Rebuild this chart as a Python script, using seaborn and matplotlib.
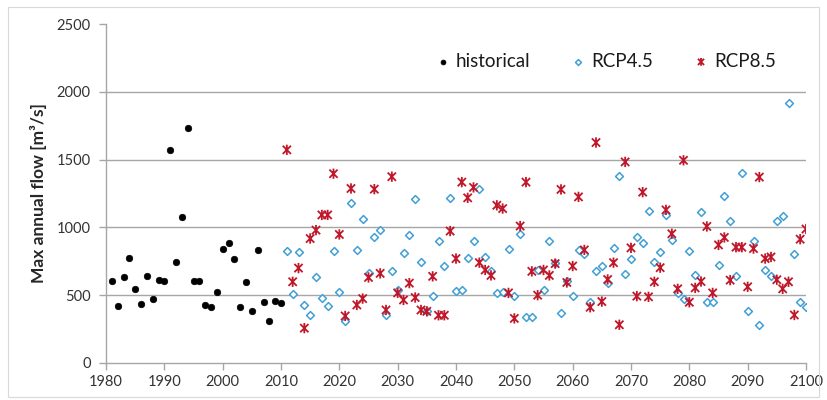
import numpy as np
import pandas as pd
import matplotlib
matplotlib.use("Agg")
import matplotlib.pyplot as plt
from matplotlib.path import Path
from matplotlib.patches import Rectangle
import seaborn as sns

# Observed annual maxima
hist_years = list(range(1981, 2011))
hist_flow = [605, 420, 636, 774, 543, 437, 644, 474, 612, 605,
             1573, 745, 1074, 1730, 605, 605, 428, 415, 522, 843,
             882, 767, 415, 597, 383, 835, 450, 307, 459, 445]

# Projected annual maxima under two emission scenarios
proj_years = list(range(2011, 2101))
rcp45_flow = [824, 507, 817, 431, 352, 631, 483, 421, 824, 522,
              307, 1178, 832, 1064, 661, 926, 980, 354, 676, 542,
              809, 941, 1210, 745, 385, 493, 901, 715, 1215, 530,
              535, 775, 901, 1280, 782, 676, 517, 525, 839, 493,
              955, 337, 342, 686, 535, 901, 735, 369, 605, 493,
              834, 805, 448, 676, 715, 592, 851, 1379, 653, 765,
              931, 884, 1119, 745, 817, 1094, 908, 517, 473, 824,
              646, 1111, 453, 453, 723, 1233, 1050, 641, 1403, 381,
              901, 282, 683, 639, 1050, 1087, 1920, 804, 453, 413]
rcp85_flow = [1572, 599, 700, 257, 918, 980, 1092, 1092, 1396, 948,
              347, 1287, 428, 475, 631, 1282, 661, 391, 1374, 517,
              465, 589, 483, 391, 381, 639, 352, 352, 973, 770,
              1334, 1218, 1295, 740, 686, 646, 1163, 1139, 517, 329,
              1010, 1334, 676, 500, 686, 646, 733, 1280, 594, 715,
              1225, 834, 411, 1626, 453, 616, 740, 282, 1483, 849,
              493, 1260, 488, 599, 703, 1129, 953, 547, 1495, 448,
              554, 601, 1007, 517, 871, 926, 611, 854, 854, 562,
              844, 1371, 770, 782, 614, 547, 599, 354, 913, 988]

x_ticks = list(range(1980, 2101, 10))
y_ticks = [0, 500, 1000, 1500, 2000, 2500]

hist_df = pd.DataFrame({"year": hist_years, "flow": hist_flow})
r45_df = pd.DataFrame({"year": proj_years, "flow": rcp45_flow})
r85_df = pd.DataFrame({"year": proj_years, "flow": rcp85_flow})

sns.set_theme(style="white")
plt.rcParams["font.family"] = ["Lato", "DejaVu Sans"]

fig = plt.figure(figsize=(8.27, 4.0), dpi=100)
ax = fig.add_axes([106 / 827, 1 - 363 / 400, 700 / 827, 339 / 400])

# Excel-style asterisk marker: an X crossed by a vertical stroke
star = Path([(0, -1), (0, 1), (-0.8, -0.8), (0.8, 0.8), (-0.8, 0.8), (0.8, -0.8)],
            [Path.MOVETO, Path.LINETO, Path.MOVETO, Path.LINETO, Path.MOVETO, Path.LINETO])

grid_c = "#a6a6a6"
for yv in y_ticks[1:-1]:
    ax.axhline(yv, color=grid_c, lw=1.0, zorder=0)

sns.scatterplot(data=hist_df, x="year", y="flow", ax=ax, color="black",
                marker="o", s=22, edgecolor="black", linewidth=0.5,
                label="historical", zorder=3)
sns.scatterplot(data=r45_df, x="year", y="flow", ax=ax, marker="D", s=16,
                facecolor="white", edgecolor="#3f9fd6", linewidth=1.1,
                label="RCP4.5", zorder=3)
sns.scatterplot(data=r85_df, x="year", y="flow", ax=ax, marker=star, s=55,
                facecolor="none", edgecolor="#c0182a", linewidth=1.3,
                label="RCP8.5", zorder=4)

ax.set_xlim(1980, 2100)
ax.set_ylim(0, 2500)
ax.set_xticks(x_ticks)
ax.set_yticks(y_ticks)
ax.set_xlabel("")
ax.set_ylabel("Max annual flow [m³/s]", fontsize=12.5, fontweight="bold", labelpad=7)
ax.tick_params(axis="both", labelsize=10.5, colors="#333333", length=5,
               width=1, direction="out", bottom=True, left=True, color=grid_c)
ax.tick_params(axis="x", pad=4)
ax.tick_params(axis="y", pad=6)

for side in ["top", "right"]:
    ax.spines[side].set_visible(False)
for side in ["left", "bottom"]:
    ax.spines[side].set_color(grid_c)
    ax.spines[side].set_linewidth(1.0)

leg = ax.legend(loc="center", bbox_to_anchor=(0.711, 0.89), ncol=3, frameon=False,
                fontsize=13.5, handletextpad=0.1, handlelength=1.2,
                columnspacing=1.95, markerscale=0.75)
for t in leg.get_texts():
    t.set_color("#1a1a1a")

# light chart-area frame
fig.patches.append(Rectangle((8 / 827, 3 / 400), 811 / 827, 390 / 400, transform=fig.transFigure,
                             fill=False, edgecolor="#d9d9d9", lw=0.8))

fig.savefig("out.png", dpi=100)
